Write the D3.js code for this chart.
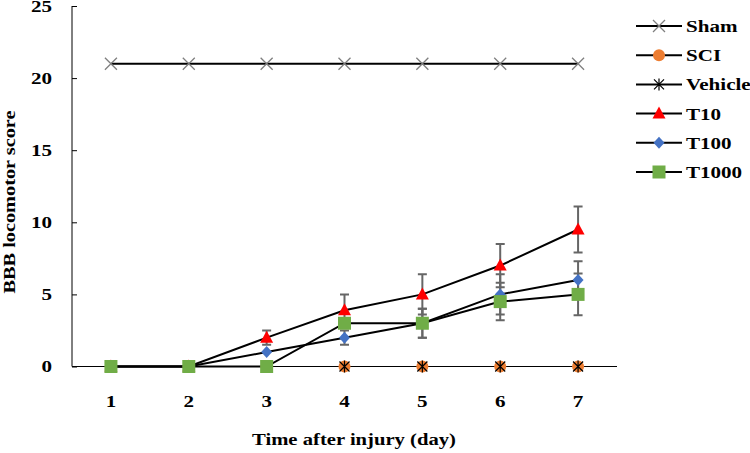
<!DOCTYPE html>
<html><head><meta charset="utf-8">
<script src="https://cdn.jsdelivr.net/npm/d3@7"></script>
<style>body{margin:0;background:#fff}svg{display:block}text{font-family:"Liberation Serif","Times New Roman",serif;font-weight:bold;fill:#000}</style>
</head><body><svg id="c" width="750" height="453"></svg>
<script>
const days = ["1","2","3","4","5","6","7"];
const yTicks = [0,5,10,15,20,25];
const seriesNames = ["Sham","SCI","Vehicle","T10","T100","T1000"];
const sham    = [21,21,21,21,21,21,21];
const sci     = [0,0,0,0,0,0,0];
const vehicle = [0,0,0,0,0,0,0];
const t10     = [0,0,2,3.9,5,7,9.5];
const t10Err  = [0,0,0.5,1.1,1.4,1.5,1.6];
const t100    = [0,0,1,2,3,5,6];
const t100Err = [0,0,0,0.5,1,1.4,1.3];
const t1000   = [0,0,0,3,3,4.5,5];
const t1000Err= [0,0,0,0,1,1.3,1.45];

const shapes = ["x","circle","star","tri","diamond","square"];
const colors = ["#7f7f7f","#ED7D31","#000","#FF0000","#4472C4","#70AD47"];
const valueSets = [sham,sci,vehicle,t10,t100,t1000];
const errSets = [null,null,null,t10Err,t100Err,t1000Err];
const series = seriesNames.map((n,i)=>({name:n, values:valueSets[i], err:errSets[i], shape:shapes[i], color:colors[i]}));

const SX = 1.24, FS = 17;
const svg = d3.select("#c");
const x = d3.scaleBand().domain(days).range([72,617]);
const y = d3.scaleLinear().domain([0,25]).range([366.5,6]);
const cx = d => x(d) + x.bandwidth()/2;

// axes
const ya = svg.append("g").attr("transform","translate(72,0)")
  .call(d3.axisLeft(y).tickValues(yTicks).tickSize(-5).tickPadding(20));
ya.select(".domain").attr("stroke","#000").attr("d","M0,"+y(25)+"V"+y(0));
ya.selectAll(".tick line").attr("stroke","#000");
ya.selectAll("text").attr("font-size",FS).attr("font-family","Liberation Serif").attr("font-weight","bold")
  .attr("x",-20/SX).attr("transform",`scale(${SX},1)`);

const xa = svg.append("g").attr("transform","translate(0,"+y(0)+")")
  .call(d3.axisBottom(x).tickSize(0).tickPadding(28));
xa.select(".domain").attr("stroke","#000").attr("d","M72,0H617");
xa.selectAll("text").attr("font-size",FS).attr("font-family","Liberation Serif").attr("font-weight","bold")
  .attr("transform",`scale(${SX},1)`);

svg.append("text").attr("transform",`translate(354,445) scale(${SX*0.98},1)`).attr("text-anchor","middle").attr("font-size",FS).text("Time after injury (day)");
svg.append("text").attr("transform","translate(15,202) rotate(-90)").attr("text-anchor","middle").attr("font-size",FS)
  .attr("textLength",183).attr("lengthAdjust","spacingAndGlyphs").attr("x",0).text("BBB locomotor score");

function marker(g, shape, color, px, py){
  const s = 6;
  if(shape==="x"){
    g.append("path").attr("d",`M${px-s},${py-s}L${px+s},${py+s}M${px-s},${py+s}L${px+s},${py-s}`).attr("stroke",color).attr("stroke-width",1.3).attr("fill","none");
  } else if(shape==="circle"){
    g.append("circle").attr("cx",px).attr("cy",py).attr("r",6).attr("fill",color);
  } else if(shape==="star"){
    g.append("path").attr("d",`M${px-5},${py-5}L${px+5},${py+5}M${px-5},${py+5}L${px+5},${py-5}M${px},${py-6}L${px},${py+6}`).attr("stroke",color).attr("stroke-width",1.2).attr("fill","none");
  } else if(shape==="tri"){
    g.append("path").attr("d",`M${px},${py-7}L${px+6.5},${py+5}L${px-6.5},${py+5}Z`).attr("fill",color);
  } else if(shape==="diamond"){
    g.append("path").attr("d",`M${px},${py-6}L${px+5.5},${py}L${px},${py+6}L${px-5.5},${py}Z`).attr("fill",color);
  } else if(shape==="square"){
    g.append("rect").attr("x",px-6.5).attr("y",py-6.5).attr("width",13).attr("height",13).attr("fill",color);
  }
}

const line = d3.line().x((v,i)=>cx(days[i])).y(v=>y(v));
// error bars
series.forEach(s=>{
  const g = svg.append("g");
  if(s.err){
    s.values.forEach((v,i)=>{
      const e = s.err[i]; if(!e) return;
      const px = cx(days[i]);
      g.append("path").attr("d",`M${px},${y(v+e)}V${y(v-e)}M${px-4.5},${y(v+e)}H${px+4.5}M${px-4.5},${y(v-e)}H${px+4.5}`)
        .attr("stroke","#666").attr("stroke-width",2).attr("fill","none");
    });
  }
});
// lines
series.forEach(s=>{
  svg.append("path").datum(s.values).attr("d",line).attr("fill","none").attr("stroke","#000")
    .attr("stroke-width", (s.name==="SCI"||s.name==="Vehicle") ? 1.2 : 2);
});
// markers
series.forEach(s=>{
  const g = svg.append("g");
  s.values.forEach((v,i)=>marker(g,s.shape,s.color,cx(days[i]),y(v)));
});

// legend
const lg = svg.append("g");
series.forEach((s,i)=>{
  const ly = 26 + i*29.2;
  lg.append("line").attr("x1",636).attr("x2",682).attr("y1",ly).attr("y2",ly).attr("stroke","#000").attr("stroke-width",2);
  marker(lg,s.shape,s.color,659,ly);
  lg.append("text").attr("transform",`translate(686,${ly+6}) scale(${SX},1)`).attr("font-size",FS).text(s.name);
});
</script></body></html>
